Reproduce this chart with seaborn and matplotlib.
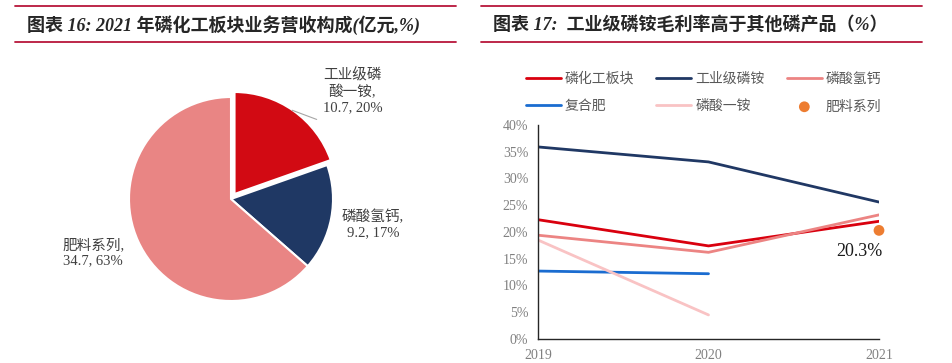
import numpy as np
import pandas as pd
import matplotlib
matplotlib.use("Agg")
import matplotlib.pyplot as plt
import seaborn as sns
from matplotlib.lines import Line2D

# ---- data: left pie (2021 revenue, 亿元) ----
pie_labels = ['工业级磷\n酸一铵,\n10.7, 20%', '磷酸氢钙,\n9.2, 17%', '肥料系列,\n34.7, 63%']
pie_values = [10.7, 9.2, 34.7]
pie_colors = ['#D20A13', '#1F3864', '#E98584']

# ---- data: right line chart (gross margin, %) ----
years = [2019, 2020, 2021]
year_labels = ['2019', '2020', '2021']
lhgbk = [22.3, 17.4, 22.0]      # 磷化工板块
gyjla = [35.9, 33.1, 25.6]      # 工业级磷铵
lsqg = [19.4, 16.2, 23.2]       # 磷酸氢钙
fhf = [12.7, 12.2]              # 复合肥 (2019-2020)
lsya = [18.5, 4.5]              # 磷酸一铵 (2019-2020)
flxl_year = [2021]
flxl = [20.3]                   # 肥料系列
y_ticks = [0, 5, 10, 15, 20, 25, 30, 35, 40]

sns.set_style("white")
plt.rcParams['font.family'] = ['Liberation Serif', 'Noto Sans CJK SC']
plt.rcParams['axes.unicode_minus'] = False

W, H = 953, 363
fig = plt.figure(figsize=(W / 100, H / 100), dpi=100)

def px(x, y):
    return x / W, 1 - y / H

# title bars
bar_col = '#B8163A'
for x0, x1 in [(15, 456), (481, 922)]:
    for yy in (6, 42):
        fig.add_artist(Line2D([x0 / W, x1 / W], [1 - yy / H, 1 - yy / H],
                              color=bar_col, lw=1.3, transform=fig.transFigure))
fig.text(*px(27, 25), '图表 16: 2021 年磷化工板块业务营收构成(亿元,%)',
         fontsize=13, fontweight='bold', style='italic', va='center', ha='left')
fig.text(*px(493, 25), '图表 17:  工业级磷铵毛利率高于其他磷产品（%）',
         fontsize=13, fontweight='bold', style='italic', va='center', ha='left')

# ---- pie ----
R = 102
cx, cy = 231, 199
side = 2.5 * R
ax1 = fig.add_axes([(cx - side / 2) / W, (H - cy - side / 2) / H, side / W, side / H])
ax1.pie(pie_values, colors=pie_colors, startangle=90, counterclock=False,
        explode=[0.06, 0, 0], wedgeprops=dict(edgecolor='white', linewidth=1.5))
ax1.set_xlim(-1.25, 1.25)
ax1.set_ylim(-1.25, 1.25)
ax1.set_aspect('equal')
ax1.axis('off')
lab_pos = [(1.19, 1.06), (1.39, -0.25), (-1.35, -0.53)]
for lab, (lx, ly) in zip(pie_labels, lab_pos):
    ax1.text(lx, ly, lab, ha='center', va='center', fontsize=10.5, color='#404040',
             linespacing=1.2, clip_on=False)
ax1.plot([0.60, 0.84], [0.87, 0.78], color='#A6A6A6', lw=0.8, clip_on=False)

# ---- line chart ----
ax2 = fig.add_axes([538 / W, 1 - 339 / H, (879 - 538) / W, (339 - 125) / H])
lw = 2.0
sns.lineplot(x=years, y=lhgbk, ax=ax2, color='#D9000E', lw=lw, label='磷化工板块')
sns.lineplot(x=years[:2], y=fhf, ax=ax2, color='#1A6CD0', lw=lw, label='复合肥')
sns.lineplot(x=years, y=gyjla, ax=ax2, color='#203864', lw=lw, label='工业级磷铵')
sns.lineplot(x=years[:2], y=lsya, ax=ax2, color='#F9C3C4', lw=lw, label='磷酸一铵')
sns.lineplot(x=years, y=lsqg, ax=ax2, color='#EC8483', lw=lw, label='磷酸氢钙')
sns.scatterplot(x=flxl_year, y=flxl, ax=ax2, color='#ED7D31', s=60,
                edgecolor='none', label='肥料系列', clip_on=False, zorder=5)
ax2.annotate('20.3%', xy=(flxl_year[0], flxl[0]), xytext=(-14, -15),
             textcoords='offset points', ha='center', va='center',
             fontsize=13, color='#1A1A1A')

ax2.set_xlim(2019, 2021)
ax2.set_ylim(0, 40)
ax2.set_xticks(years)
ax2.set_xticklabels(year_labels)
ax2.set_yticks(y_ticks)
ax2.set_yticklabels([f'{v}%' for v in y_ticks])
for s in ['top', 'right']:
    ax2.spines[s].set_visible(False)
for s in ['left', 'bottom']:
    ax2.spines[s].set_color('#262626')
    ax2.spines[s].set_linewidth(1.0)
ax2.tick_params(axis='both', which='both', direction='out', length=4, width=1,
                color='#262626', labelsize=10, labelcolor='#808080', pad=3)
ax2.tick_params(axis='x', pad=3)

handles, labels = ax2.get_legend_handles_labels()
ax2.get_legend().remove()
fig.legend(handles, labels, ncol=3, loc='upper left', frameon=False,
           bbox_to_anchor=(526 / W, 1 - 72 / H), fontsize=10,
           handlelength=2.5, handletextpad=0.3, columnspacing=1.6,
           labelspacing=1.05, labelcolor='#595959', borderaxespad=0, borderpad=0)

fig.savefig('out.png', dpi=100)
